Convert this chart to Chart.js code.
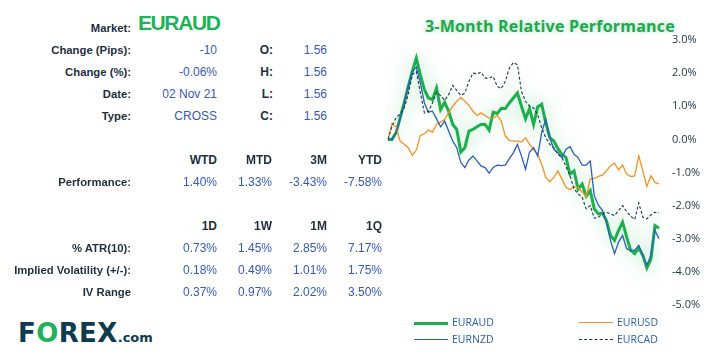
<!DOCTYPE html>
<html>
<head>
<meta charset="utf-8">
<script src="https://cdn.jsdelivr.net/npm/chart.js@4.4.0/dist/chart.umd.min.js"></script>
<style>
  body { margin: 0; background: #fff; }
  #wrap { position: relative; width: 711px; height: 359px; overflow: hidden; background: #fff; font-family: "Liberation Sans", Arial, sans-serif; }
  .t { position: absolute; white-space: nowrap; line-height: 16px; }
  .lbl { font-weight: bold; font-size: 11.3px; color: #1f2f3f; }
  .hdr { font-weight: bold; font-size: 12px; color: #1f2f3f; }
  .val { font-size: 12px; color: #3559b7; }
  #market { position: absolute; left: 138px; top: 11px; font-weight: bold; font-size: 21px; line-height: 24px; letter-spacing: -1.4px; color: #1db35a; }
  #title { position: absolute; left: 425px; top: 16px; font-family: "Open Sans", sans-serif; font-weight: bold; font-size: 16px; line-height: 20px; letter-spacing: 0.2px; color: #21a84f; text-shadow: 0 0 5px rgba(60, 190, 100, 0.45); white-space: nowrap; }
  #chartBox { position: absolute; left: 380px; top: 0; width: 331px; height: 359px; }
  .lg { position: absolute; font-family: "Open Sans", sans-serif; font-size: 10.5px; line-height: 14px; color: #2a5db0; }
  .lgline { position: absolute; width: 34px; height: 0; }
  #logo { position: absolute; left: 18px; top: 320px; font-family: "DejaVu Sans", sans-serif; font-weight: bold; font-size: 26px; line-height: 27px; letter-spacing: 0.4px; color: #0e3b4d; white-space: nowrap; }
  #logo .o { color: #1db35a; }
  #logo .com { font-size: 13px; letter-spacing: 0; }
</style>
</head>
<body>
<div id="wrap">
  <div id="market">EURAUD</div>
  <div id="title">3-Month Relative Performance</div>
  <div id="chartBox"><canvas id="chart" width="331" height="359"></canvas></div>
  <div id="logo">F<span class="o">O</span>REX<span class="com">.com</span></div>
</div>
<script>
// 3-month relative performance (%), one point per trading day
const EURAUD = [0.00, 0.00, 0.20, 0.65, 1.10, 1.60, 2.05, 2.45, 1.95, 1.50,
  1.25, 1.20, 1.55, 0.90, 1.12, 0.85, 0.45, 0.30, -0.38, -0.25,
  0.25, 0.30, 0.38, 0.45, 0.45, 0.28, 0.82, 0.78, 0.93, 0.93,
  1.10, 1.25, 1.40, 1.00, 0.62, 0.93, 0.45, 0.98, 1.06, 0.50,
  0.05, -0.05, -0.28, -0.45, -0.55, -1.05, -0.95, -1.50, -1.35, -1.72,
  -1.55, -2.10, -2.25, -2.22, -2.45, -2.90, -3.05, -2.75, -2.50, -2.95,
  -3.35, -3.45, -3.28, -3.50, -3.88, -3.62, -2.60, -2.68];
const EURNZD = [0.00, 0.00, 0.20, 0.62, 1.10, 1.60, 2.05, 2.18, 1.70, 1.10,
  0.82, 0.85, 0.62, 0.38, 0.55, 0.25, -0.05, -0.25, -0.70, -0.85,
  -0.62, -0.50, -0.65, -0.80, -0.85, -1.02, -0.85, -0.78, -0.79, -0.78,
  -0.58, -0.40, -0.15, -0.50, -0.90, -0.38, -0.25, -0.50, 0.20, 0.62,
  0.05, -0.30, -0.40, -0.55, -0.30, -0.22, -0.45, -0.55, -0.78, -0.78,
  -0.65, -1.70, -1.98, -2.14, -2.50, -3.05, -3.45, -3.10, -2.90, -3.30,
  -3.35, -3.35, -3.20, -3.50, -3.80, -3.50, -2.75, -3.00];
const EURUSD = [0.00, 0.48, 0.38, -0.05, -0.15, -0.25, -0.48, -0.33, 0.12, 0.17,
  0.28, 0.22, 0.45, 0.52, 0.60, 0.80, 1.00, 1.15, 1.27, 1.15,
  1.03, 0.85, 0.72, 0.80, 0.72, 0.64, 0.64, 0.72, 0.55, 0.10,
  -0.03, -0.05, -0.05, -0.08, 0.05, -0.15, -0.30, -0.45, -0.75, -1.15,
  -1.28, -1.15, -0.95, -1.20, -1.45, -1.52, -1.42, -1.45, -1.58, -1.74,
  -1.20, -1.18, -1.12, -1.08, -0.95, -0.80, -0.72, -0.92, -0.78, -1.05,
  -1.12, -1.10, -0.50, -0.95, -1.42, -1.10, -1.30, -1.34];
const EURCAD = [0.00, 0.40, 0.65, 0.77, 0.95, 1.35, 1.95, 2.05, 1.40, 0.80,
  0.85, 1.10, 1.42, 1.32, 1.18, 1.35, 1.63, 1.48, 1.33, 1.40,
  1.75, 2.00, 1.98, 2.03, 1.85, 1.85, 1.90, 1.60, 1.53, 1.75,
  2.15, 2.32, 2.25, 1.45, 1.15, 1.00, 0.95, 0.75, 0.35, 0.05,
  -0.15, -0.25, -0.45, -0.55, -0.82, -1.10, -1.50, -1.64, -1.75, -2.10,
  -2.00, -2.38, -2.35, -2.25, -2.20, -2.25, -2.30, -2.15, -2.00, -2.18,
  -2.32, -2.42, -1.92, -2.35, -2.40, -2.28, -2.20, -2.22];
const days = EURAUD.map((_, i) => i + 1);

const infoLabels = ["Market:", "Change (Pips):", "Change (%):", "Date:", "Type:"];
const infoValues = ["-10", "-0.06%", "02 Nov 21", "CROSS"];
const ohlcLabels = ["O:", "H:", "L:", "C:"];
const ohlcValues = ["1.56", "1.56", "1.56", "1.56"];
const perfHeaders = ["WTD", "MTD", "3M", "YTD"];
const perfValues = ["1.40%", "1.33%", "-3.43%", "-7.58%"];
const rangeHeaders = ["1D", "1W", "1M", "1Q"];
const rangeLabels = ["% ATR(10):", "Implied Volatility (+/-):", "IV Range"];
const rangeValues = [
    ["0.73%", "1.45%", "2.85%", "7.17%"],
    ["0.18%", "0.49%", "1.01%", "1.75%"],
    ["0.37%", "0.97%", "2.02%", "3.50%"],
];
const yTicks = [3, 2, 1, 0, -1, -2, -3, -4, -5];

const wrap = document.getElementById("wrap");

// right-aligned text, x = right edge, y = vertical centre
function put(text, x, y, cls) {
    const el = document.createElement("div");
    el.className = "t " + cls;
    el.textContent = text;
    el.style.right = (711 - x) + "px";
    el.style.top = (y - 8) + "px";
    wrap.appendChild(el);
}

const cols = [217, 272, 327, 382];
put(infoLabels[0], 131, 28, "lbl");
infoValues.forEach((v, i) => {
    const y = 50 + i * 22;
    put(infoLabels[i + 1], 131, y, "lbl");
    put(v, 217, y, "val");
    put(ohlcLabels[i], 273, y, "hdr");
    put(ohlcValues[i], 327, y, "val");
});
perfHeaders.forEach((h, i) => put(h, cols[i], 160, "hdr"));
put("Performance:", 131, 182, "lbl");
perfValues.forEach((v, i) => put(v, cols[i], 182, "val"));
rangeHeaders.forEach((h, i) => put(h, cols[i], 226, "hdr"));
rangeLabels.forEach((l, r) => {
    const y = 248 + r * 22;
    put(l, 131, y, "lbl");
    rangeValues[r].forEach((v, i) => put(v, cols[i], y, "val"));
});

const series = [
    { label: "EURAUD", data: EURAUD, color: "#1cb04d", width: 3, dash: [], order: 10 },
    { label: "EURNZD", data: EURNZD, color: "#2c5fb8", width: 1.3, dash: [], order: 2 },
    { label: "EURUSD", data: EURUSD, color: "#f7921e", width: 1.3, dash: [], order: 3 },
    { label: "EURCAD", data: EURCAD, color: "#1c3a52", width: 1.1, dash: [3, 2], order: 1 },
];

// legend, two columns
const legendPos = [[414, 323], [414, 340], [579, 323], [579, 340]];
series.forEach((s, i) => {
    const [x, y] = legendPos[i];
    const line = document.createElement("div");
    line.className = "lgline";
    line.style.left = x + "px";
    line.style.top = (y - s.width / 2) + "px";
    line.style.borderTop = s.width + "px " + (s.dash.length ? "dashed " : "solid ") + s.color;
    wrap.appendChild(line);
    const txt = document.createElement("div");
    txt.className = "lg";
    txt.textContent = s.label;
    txt.style.left = (x + 38) + "px";
    txt.style.top = (y - 8) + "px";
    wrap.appendChild(txt);
});

const glow = {
    id: "glow",
    beforeDatasetDraw(chart, args) {
        if (args.index !== 0) return;
        chart.ctx.save();
        chart.ctx.shadowColor = "rgba(60, 195, 110, 0.55)";
        chart.ctx.shadowBlur = 20;
    },
    afterDatasetDraw(chart, args) {
        if (args.index !== 0) return;
        chart.ctx.restore();
    },
};

new Chart(document.getElementById("chart"), {
    type: "line",
    data: {
        labels: days,
        datasets: series.map((s) => ({
            label: s.label,
            data: s.data,
            borderColor: s.color,
            borderWidth: s.width,
            borderDash: s.dash,
            order: s.order,
            pointRadius: 0,
            tension: 0,
            fill: false,
        })),
    },
    options: {
        responsive: false,
        devicePixelRatio: 1,
        animation: false,
        layout: { padding: { left: 8, top: 40, bottom: 54, right: 0 } },
        plugins: { legend: { display: false }, tooltip: { enabled: false } },
        scales: {
            x: { display: false, offset: false },
            y: {
                position: "right",
                min: -5,
                max: 3,
                afterFit: (scale) => { scale.width = 52; },
                afterBuildTicks: (scale) => { scale.ticks = yTicks.map((v) => ({ value: v })); },
                grid: { display: false, drawTicks: false },
                border: { display: false },
                ticks: {
                    padding: 13,
                    color: "#1c3347",
                    font: { family: "Open Sans", size: 11 },
                    callback: (v) => v.toFixed(1) + "%",
                },
            },
        },
    },
    plugins: [glow],
});
</script>
</body>
</html>
